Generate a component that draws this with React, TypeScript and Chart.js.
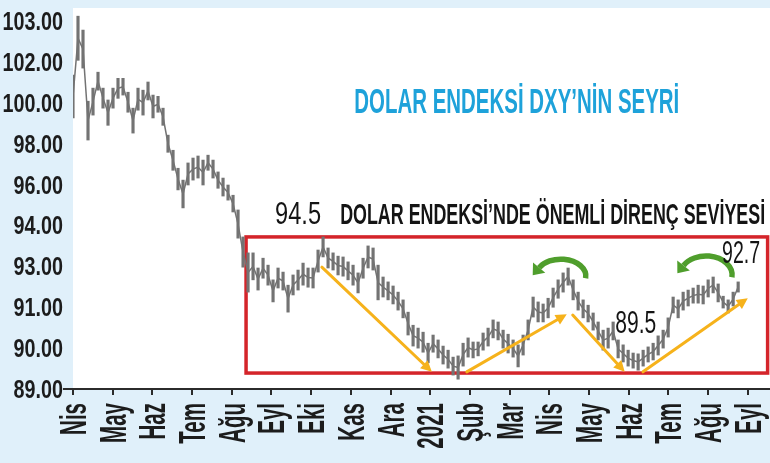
import React, { useEffect, useRef } from "react";
import { Chart, registerables } from "chart.js";

Chart.register(...registerables);

// Month tick labels (Apr 2020 - Sep 2021)
const monthLabels = ["Nis", "May", "Haz", "Tem", "Ağu", "Eyl", "Eki", "Kas", "Ara", "2021", "Şub", "Mar", "Nis", "May", "Haz", "Tem", "Ağu", "Eyl"];

// Y tick labels as printed in the graphic (evenly spaced gridline levels 0..9)
const yTickLabels = ["89.00", "90.00", "91.00", "93.00", "94.00", "96.00", "98.00", "100.00", "102.00", "103.00"];

// DXY range per sample, expressed in the graphic's axis levels (0 = "89.00" ... 9 = "103.00")
const dxyHigh = [
  7.68, 9.12, 8.78, 7.04, 7.36, 7.75, 7.36, 7.07, 7.36, 7.60,
  7.60, 7.26, 6.87, 7.36, 7.31, 7.51, 7.19, 7.16, 6.87, 6.21,
  5.84, 5.40, 5.11, 5.53, 5.65, 5.70, 5.60, 5.72, 5.60, 5.31,
  5.16, 4.99, 4.74, 4.38, 3.72, 3.33, 3.33, 2.96, 3.20, 3.03,
  2.67, 2.96, 2.86, 2.54, 2.79, 2.91, 3.08, 2.96, 2.96, 3.40,
  3.72, 3.45, 3.33, 3.25, 3.23, 3.11, 3.03, 2.84, 3.20, 3.50,
  3.45, 3.03, 2.74, 2.62, 2.52, 2.37, 2.18, 1.88, 1.56, 1.49,
  1.39, 1.12, 1.32, 1.20, 1.05, 0.95, 0.78, 0.81, 1.12, 1.25,
  1.15, 1.15, 1.37, 1.49, 1.69, 1.64, 1.44, 1.34, 1.20, 1.08,
  1.32, 1.69, 2.25, 2.13, 2.08, 2.22, 2.47, 2.67, 2.84, 2.96,
  2.67, 2.37, 2.18, 2.05, 1.86, 1.64, 1.44, 1.49, 1.64, 1.20,
  1.08, 0.95, 0.88, 0.86, 0.95, 1.03, 1.12, 1.30, 1.44, 1.74,
  2.25, 2.18, 2.37, 2.42, 2.47, 2.54, 2.52, 2.67, 2.74, 2.57,
  2.27, 2.18, 2.37, 2.62,
];
const dxyLow = [
  6.63, 8.04, 7.85, 6.09, 6.70, 7.31, 6.87, 6.45, 6.87, 7.11,
  7.19, 6.77, 6.26, 6.82, 6.70, 7.07, 6.63, 6.77, 6.45, 5.79,
  5.35, 4.87, 4.43, 4.99, 5.11, 5.16, 4.99, 5.35, 5.16, 4.91,
  4.72, 4.62, 4.33, 3.69, 2.98, 2.37, 2.67, 2.42, 2.71, 2.54,
  2.13, 2.47, 2.42, 1.88, 2.30, 2.42, 2.54, 2.49, 2.47, 2.86,
  3.23, 2.96, 2.91, 2.79, 2.76, 2.67, 2.54, 2.35, 2.71, 2.96,
  2.91, 2.18, 2.25, 2.18, 2.08, 1.93, 1.74, 1.32, 1.05, 1.00,
  0.90, 0.64, 0.90, 0.76, 0.61, 0.51, 0.34, 0.24, 0.56, 0.78,
  0.76, 0.81, 0.95, 1.05, 1.25, 1.20, 1.00, 0.88, 0.78, 0.54,
  0.83, 1.20, 1.76, 1.64, 1.64, 1.74, 2.00, 2.22, 2.37, 2.54,
  2.18, 1.93, 1.74, 1.64, 1.44, 1.20, 0.95, 1.00, 1.20, 0.76,
  0.66, 0.56, 0.51, 0.46, 0.56, 0.66, 0.71, 0.83, 1.00, 1.27,
  1.86, 1.74, 1.93, 2.03, 2.10, 2.10, 2.08, 2.25, 2.35, 2.13,
  1.98, 1.86, 2.03, 2.37,
];
// Samples are spaced evenly in time (months from start of April 2020)
const SAMPLE_STEP = 0.126;

// Annotations (data coordinates: x in months, y in axis levels)
const resistanceBox = { x0: 4.36, x1: 17.5, y0: 0.39, y1: 3.72 };
const trendArrows = [
  { x1: 6.27, y1: 2.98, x2: 9.04, y2: 0.42 },
  { x1: 9.92, y1: 0.42, x2: 12.44, y2: 1.83 },
  { x1: 12.59, y1: 1.81, x2: 13.9, y2: 0.42 },
  { x1: 14.36, y1: 0.42, x2: 17.0, y2: 2.22 },
];
const turnArrows = [
  { x: 12.29, y: 2.76, rx: 25, ry: 17 },
  { x: 15.95, y: 2.79, rx: 26, ry: 19 },
];
const textNotes = [
  { text: "DOLAR ENDEKSİ DXY’NİN SEYRİ", x: 11.18, y: 6.99, size: 35, color: "#1ea2da", weight: "bold", width: 325, align: "center" },
  { text: "94.5", x: 5.67, y: 4.24, size: 31, color: "#141414", weight: "normal", width: 46, align: "center" },
  { text: "DOLAR ENDEKSİ’NDE ÖNEMLİ DİRENÇ SEVİYESİ", x: 6.73, y: 4.24, size: 30, color: "#141414", weight: "bold", width: 425, align: "left" },
  { text: "89.5", x: 14.18, y: 1.59, size: 31, color: "#141414", weight: "normal", width: 41, align: "center" },
  { text: "92.7", x: 16.83, y: 3.3, size: 31, color: "#141414", weight: "normal", width: 38, align: "center" },
];

const FONT = '"Liberation Sans", Arial, sans-serif';
const BG = "#e0f0fa";
const SERIES = "#737373";
const INK = "#1c1c1c";

function drawArrow(ctx: CanvasRenderingContext2D, x1: number, y1: number, x2: number, y2: number, color: string) {
  const ang = Math.atan2(y2 - y1, x2 - x1);
  const head = 11;
  const bx = x2 - Math.cos(ang) * head;
  const by = y2 - Math.sin(ang) * head;
  ctx.save();
  ctx.strokeStyle = color;
  ctx.fillStyle = color;
  ctx.lineWidth = 3;
  ctx.lineCap = "round";
  ctx.beginPath();
  ctx.moveTo(x1, y1);
  ctx.lineTo(bx, by);
  ctx.stroke();
  ctx.beginPath();
  ctx.moveTo(x2, y2);
  ctx.lineTo(bx + Math.sin(ang) * 5.5, by - Math.cos(ang) * 5.5);
  ctx.lineTo(bx - Math.sin(ang) * 5.5, by + Math.cos(ang) * 5.5);
  ctx.closePath();
  ctx.fill();
  ctx.restore();
}

function drawTurn(ctx: CanvasRenderingContext2D, cx: number, cy: number, rx: number, ry: number) {
  const color = "#4f9e2c";
  const a0 = 0.12;
  const a1 = -2.62;
  ctx.save();
  ctx.strokeStyle = color;
  ctx.fillStyle = color;
  ctx.lineWidth = 5.5;
  ctx.beginPath();
  ctx.ellipse(cx, cy, rx, ry, 0, a0, a1, true);
  ctx.stroke();
  const ex = cx + rx * Math.cos(a1);
  const ey = cy + ry * Math.sin(a1);
  let dx = rx * Math.sin(a1);
  let dy = -ry * Math.cos(a1);
  const len = Math.hypot(dx, dy);
  dx /= len;
  dy /= len;
  const tipX = ex + dx * 10;
  const tipY = ey + dy * 10;
  ctx.beginPath();
  ctx.moveTo(tipX, tipY);
  ctx.lineTo(ex - dy * 8, ey + dx * 8);
  ctx.lineTo(ex + dy * 8, ey - dx * 8);
  ctx.closePath();
  ctx.fill();
  ctx.restore();
}

const decorPlugin = {
  id: "decor",
  beforeDraw(chart: any) {
    const { ctx, chartArea: a, width, height } = chart;
    ctx.save();
    ctx.fillStyle = BG;
    ctx.fillRect(0, 0, width, height);
    ctx.fillStyle = "#ffffff";
    ctx.fillRect(a.left, a.top, a.right - a.left, a.bottom - a.top);
    ctx.restore();
  },
  beforeDatasetsDraw(chart: any) {
    const { ctx, scales } = chart;
    const x = scales.x;
    const y = scales.y;
    const l = x.getPixelForValue(resistanceBox.x0);
    const r = x.getPixelForValue(resistanceBox.x1);
    const t = y.getPixelForValue(resistanceBox.y1);
    const b = y.getPixelForValue(resistanceBox.y0);
    ctx.save();
    ctx.strokeStyle = "#d4242a";
    ctx.lineWidth = 3.5;
    ctx.strokeRect(l, t, r - l, b - t);
    ctx.restore();
  },
  afterDatasetsDraw(chart: any) {
    const { ctx, scales } = chart;
    const x = scales.x;
    const y = scales.y;
    trendArrows.forEach((p) =>
      drawArrow(ctx, x.getPixelForValue(p.x1), y.getPixelForValue(p.y1), x.getPixelForValue(p.x2), y.getPixelForValue(p.y2), "#f6b21b")
    );
    turnArrows.forEach((p) => drawTurn(ctx, x.getPixelForValue(p.x), y.getPixelForValue(p.y), p.rx, p.ry));
    textNotes.forEach((n) => {
      ctx.save();
      ctx.font = `${n.weight} ${n.size}px ${FONT}`;
      ctx.fillStyle = n.color;
      ctx.textBaseline = "middle";
      ctx.textAlign = n.align as CanvasTextAlign;
      const px = x.getPixelForValue(n.x);
      const py = y.getPixelForValue(n.y);
      const sx = n.width / ctx.measureText(n.text).width;
      ctx.translate(px, py);
      ctx.scale(sx, 1);
      ctx.fillText(n.text, 0, 0);
      ctx.restore();
    });
  },
  afterDraw(chart: any) {
    // condensed tick labels, placed with the library's own scales
    const { ctx, scales } = chart;
    const x = scales.x;
    const y = scales.y;
    ctx.save();
    ctx.fillStyle = INK;
    ctx.textBaseline = "alphabetic";
    ctx.textAlign = "right";
    ctx.font = `bold 25px ${FONT}`;
    const yRight = y.right - 10;
    y.ticks.forEach((t: any) => {
      const label = yTickLabels[t.value];
      if (label === undefined) return;
      ctx.save();
      ctx.translate(yRight, y.getPixelForValue(t.value) + 9);
      ctx.scale(0.79, 1);
      ctx.fillText(label, 0, 0);
      ctx.restore();
    });
    ctx.font = `bold 36px ${FONT}`;
    const xTop = x.top + 14;
    x.ticks.forEach((t: any) => {
      const label = monthLabels[t.value];
      if (label === undefined) return;
      ctx.save();
      ctx.translate(x.getPixelForValue(t.value), xTop);
      ctx.rotate(-Math.PI / 2);
      ctx.scale(0.57, 1);
      ctx.fillText(label, 0, 13);
      ctx.restore();
    });
    ctx.restore();
  },
};

export default function App() {
  const ref = useRef<HTMLCanvasElement>(null);
  useEffect(() => {
    document.body.style.margin = "0";
    const barData = dxyHigh.map((h, i) => ({ x: i * SAMPLE_STEP, y: [dxyLow[i], h] }));
    const midData = dxyHigh.map((h, i) => ({ x: i * SAMPLE_STEP, y: (h + dxyLow[i]) / 2 }));
    const chart = new Chart(ref.current as HTMLCanvasElement, {
      type: "line",
      data: {
        datasets: [
          {
            type: "bar",
            data: barData as any,
            backgroundColor: SERIES,
            borderWidth: 0,
            barThickness: 2.5,
            order: 2,
          } as any,
          {
            type: "line",
            data: midData as any,
            borderColor: SERIES,
            borderWidth: 1.5,
            pointRadius: 0,
            tension: 0,
            order: 1,
          } as any,
        ],
      },
      options: {
        animation: false,
        responsive: true,
        maintainAspectRatio: false,
        layout: { padding: { top: 8, left: 0, right: 0, bottom: 0 } },
        plugins: { legend: { display: false }, tooltip: { enabled: false } },
        scales: {
          x: {
            type: "linear",
            min: 0,
            max: 17.56,
            offset: false,
            afterFit(s: any) {
              s.height = 74;
              s.paddingLeft = 0;
              s.paddingRight = 0;
            },
            afterBuildTicks(s: any) {
              s.ticks = monthLabels.map((_, i) => ({ value: i }));
            },
            ticks: { display: false, autoSkip: false, callback: (v: any) => monthLabels[v] },
            grid: { drawOnChartArea: false, drawTicks: true, tickLength: 6, color: "#2b2b2b", lineWidth: 2, offset: false },
            border: { display: true, color: "#2b2b2b", width: 2 },
          } as any,
          y: {
            type: "linear",
            min: 0,
            max: 9.32,
            afterFit(s: any) {
              s.width = 73;
              s.paddingTop = 0;
              s.paddingBottom = 0;
            },
            afterBuildTicks(s: any) {
              s.ticks = yTickLabels.map((_, i) => ({ value: i }));
            },
            ticks: { display: false, autoSkip: false, callback: (v: any) => yTickLabels[v] },
            grid: {
              drawOnChartArea: false,
              tickLength: 10,
              lineWidth: 2,
              color: (c: any) => (c.tick && c.tick.value === 0 ? "#2b2b2b" : "rgba(0,0,0,0)"),
            },
            border: { display: false },
          } as any,
        },
      },
      plugins: [decorPlugin],
    });
    return () => chart.destroy();
  }, []);
  return (
    <div style={{ width: 770, height: 463, position: "relative" }}>
      <canvas ref={ref} />
    </div>
  );
}
